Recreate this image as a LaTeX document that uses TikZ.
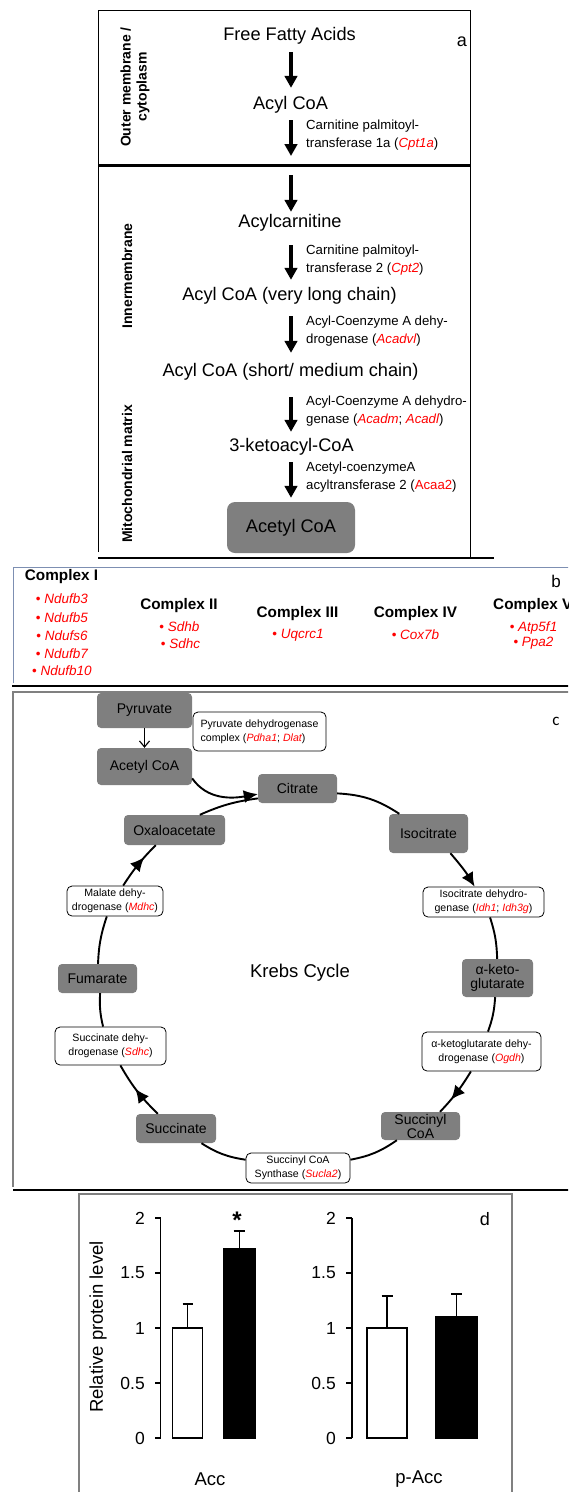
\documentclass[tikz,border=0pt]{standalone}
\usepackage{fontspec}
\setmainfont{Liberation Sans}
\newfontfamily\cfont{Carlito}
\usetikzlibrary{arrows.meta,decorations.markings,calc}
\definecolor{boxgray}{RGB}{127,127,127}
\definecolor{bluegray}{RGB}{125,143,178}
\definecolor{framegray}{RGB}{128,128,128}
\newcommand{\genename}[1]{\textcolor{red}{\itshape #1}}
\newcommand{\fsz}[2]{\fontsize{#1}{#2}\selectfont}
\tikzset{
  mainlbl/.style={font=\fsz{18.2}{20}, inner sep=0pt},
  enzlbl/.style={font=\fsz{13.2}{18}, align=left, anchor=west, inner sep=0pt},
  sidelbl/.style={rotate=90, font=\bfseries\fsz{14}{16}, align=center, inner sep=0pt},
  bigarrow/.style={line width=3.5pt, -{Triangle[length=12pt,width=12.5pt]}},
  gbox/.style={fill=boxgray, rounded corners=4pt, font=\fsz{14}{14}, align=center, inner sep=0pt},
  wbox/.style={draw=black, fill=white, rounded corners=5pt, line width=0.8pt, font=\fsz{10.6}{14}, align=center, inner sep=0pt},
  cycline/.style={line width=1.9pt},
  cycarrow/.style={line width=1.9pt, -{Latex[length=14pt,width=13pt]}},
  midarrow/.style={line width=1.9pt, postaction={decorate}, decoration={markings, mark=at position #1 with {\arrow{Latex[length=14pt,width=13pt]}}}},
  midarrow/.default=0.6,
  cplx/.style={font=\bfseries\fsz{15.3}{17}, inner sep=0pt},
  genelbl/.style={font=\fsz{13.5}{16}, text=red, inner sep=0pt},
  ticklbl/.style={font=\fsz{17.5}{20}, anchor=east, inner sep=0pt},
  barbox/.style={draw=black, line width=1.2pt},
  errbar/.style={line width=1.2pt},
}
\begin{document}
\begin{tikzpicture}[x=1pt,y=1pt]
\useasboundingbox (0,0) rectangle (568,-1492);
\clip (0,0) rectangle (568,-1492);

% ---------------- panel a ----------------
\draw[line width=0.9pt] (98,-552) -- (98,-10) -- (470,-10) -- (470,-557);
\draw[line width=2.5pt] (98,-165.7) -- (470,-165.7);
\draw[line width=2.5pt] (98,-558) -- (494,-558);

\node[font=\fsz{18}{20}, inner sep=0pt] (la) at (462,-42) {a};

\node[sidelbl] (s1) at (135,-87) {Outer membrane /\\cytoplasm};
\node[sidelbl] (s2) at (127,-276) {Innermembrane};
\node[sidelbl] (s3) at (127,-474) {Mitochondrial matrix};

\coordinate (ax) at (291,0);
\node[mainlbl] (ffa) at (289.5,-36) {Free Fatty Acids};
\node[mainlbl] (acyl1) at (290.5,-105) {Acyl CoA};
\node[mainlbl] (acylcarn) at (290,-223) {Acylcarnitine};
\node[mainlbl] (acylvlc) at (289.5,-296) {Acyl CoA (very long chain)};
\node[mainlbl] (acylsmc) at (290.5,-372) {Acyl CoA (short/ medium chain)};
\node[mainlbl] (keto) at (291.5,-447) {3-ketoacyl-CoA};
\node[fill=boxgray, rounded corners=8pt, minimum width=128pt, minimum height=51pt, font=\fsz{18.2}{20}, inner sep=0pt] (acetyl) at (291,-527.5) {Acetyl CoA};

\coordinate (m1) at (291,-156);
\coordinate (m2) at (291,-175);

\draw[bigarrow, shorten <=7.5pt, shorten >=8.5pt] (ffa.south -| ax) -- (acyl1.north -| ax);
\draw[bigarrow, shorten <=6.5pt] (acyl1.south -| ax) -- (m1);
\draw[bigarrow, shorten >=2.5pt] (m2) -- (acylcarn.north -| ax);
\draw[bigarrow, shorten <=13.5pt, shorten >=7.5pt] (acylcarn.south -| ax) -- (acylvlc.north -| ax);
\draw[bigarrow, shorten <=11.5pt, shorten >=10.5pt] (acylvlc.south -| ax) -- (acylsmc.north -| ax);
\draw[bigarrow, shorten <=16.5pt, shorten >=6.5pt] (acylsmc.south -| ax) -- (keto.north -| ax);
\draw[bigarrow, shorten <=6.5pt, shorten >=4pt] (keto.south -| ax) -- (acetyl.north -| ax);

\node[enzlbl] (e1) at (306,-135) {Carnitine palmitoyl-\\transferase 1a (\genename{Cpt1a})};
\node[enzlbl] (e2) at (306,-260) {Carnitine palmitoyl-\\transferase 2 (\genename{Cpt2})};
\node[enzlbl] (e3) at (306,-331.5) {Acyl-Coenzyme A dehy-\\drogenase (\genename{Acadvl})};
\node[enzlbl] (e4) at (306,-411) {Acyl-Coenzyme A dehydro-\\genase (\genename{Acadm}; \genename{Acadl})};
\node[enzlbl] (e5) at (306,-477.5) {Acetyl-coenzymeA\\acyltransferase 2 (\textcolor{red}{Acaa2})};

% ---------------- panel b ----------------
\draw[bluegray, line width=1pt] (13,-683) -- (13,-567) -- (575,-567);
\draw[line width=2.5pt] (12,-686) -- (575,-686);
\node[font=\fsz{17}{18}, inner sep=0pt] (lb) at (556,-581) {b};

\node[cplx] (c1) at (61.5,-577) {Complex I};
\node[genelbl] (g11) at (62,-599) {\textbullet\ \textit{Ndufb3}};
\node[genelbl] (g12) at (62,-618) {\textbullet\ \textit{Ndufb5}};
\node[genelbl] (g13) at (62,-636) {\textbullet\ \textit{Ndufs6}};
\node[genelbl] (g14) at (62,-654) {\textbullet\ \textit{Ndufb7}};
\node[genelbl] (g15) at (62,-671) {\textbullet\ \textit{Ndufb10}};

\node[cplx] (c2) at (179,-606) {Complex II};
\node[genelbl] (g21) at (179.5,-627) {\textbullet\ \textit{Sdhb}};
\node[genelbl] (g22) at (180.5,-644) {\textbullet\ \textit{Sdhc}};

\node[cplx] (c3) at (297.5,-614) {Complex III};
\node[genelbl] (g31) at (298,-635) {\textbullet\ \textit{Uqcrc1}};

\node[cplx] (c4) at (415.5,-614) {Complex IV};
\node[genelbl] (g41) at (415.5,-635) {\textbullet\ \textit{Cox7b}};

\node[cplx, anchor=west] (c5) at (493,-606) {Complex V};
\node[genelbl] (g51) at (533.5,-628) {\textbullet\ \textit{Atp5f1}};
\node[genelbl] (g52) at (533.5,-643) {\textbullet\ \textit{Ppa2}};

% ---------------- panel c ----------------
\draw[framegray, line width=1.2pt] (13,-1187) -- (13,-692) -- (575,-692);
\draw[line width=2.5pt] (13,-1190) -- (575,-1190);
\node[font=\cfont\fsz{17}{18}, inner sep=0pt] (lc) at (556,-721) {c};

\node[gbox, minimum width=95pt, minimum height=35pt] (pyr) at (144.5,-710.5) {Pyruvate};
\node[gbox, minimum width=95pt, minimum height=37pt] (acoa) at (144.5,-766.5) {Acetyl CoA};
\node[gbox, minimum width=79pt, minimum height=29pt] (cit) at (297.5,-788.5) {Citrate};
\node[gbox, minimum width=79pt, minimum height=39pt] (iso) at (428.5,-833.5) {Isocitrate};
\node[gbox, minimum width=101pt, minimum height=30pt] (oxa) at (174.5,-830) {Oxaloacetate};
\node[gbox, minimum width=79pt, minimum height=29pt] (fum) at (97.5,-978.5) {Fumarate};
\node[gbox, minimum width=71pt, minimum height=38pt] (akg) at (497.5,-978) {α-keto-\\glutarate};
\node[gbox, minimum width=79pt, minimum height=28pt] (sca) at (420.5,-1126) {Succinyl\\CoA};
\node[gbox, minimum width=80pt, minimum height=29pt] (suc) at (176,-1128.5) {Succinate};

\node[wbox, minimum width=133pt, minimum height=39pt, align=left] (pdh) at (259.5,-731.5) {Pyruvate dehydrogenase\\complex (\genename{Pdha1}; \genename{Dlat})};
\node[wbox, minimum width=96pt, minimum height=30pt] (mdh) at (115,-901) {Malate dehy-\\drogenase (\genename{Mdhc})};
\node[wbox, minimum width=121pt, minimum height=30pt] (idh) at (483.5,-902) {Isocitrate dehydro-\\genase (\genename{Idh1}; \genename{Idh3g})};
\node[wbox, minimum width=111pt, minimum height=38pt] (sdh) at (110.5,-1046) {Succinate dehy-\\drogenase (\genename{Sdhc})};
\node[wbox, minimum width=119pt, minimum height=39pt] (ogdh) at (481.5,-1051.5) {α-ketoglutarate dehy-\\drogenase (\genename{Ogdh})};
\node[wbox, minimum width=104pt, minimum height=30pt] (syn) at (298,-1168) {Succinyl CoA\\Synthase (\genename{Sucla2})};

\node[font=\fsz{18.5}{20}, inner sep=0pt] (krebs) at (300,-973) {Krebs Cycle};

\draw[line width=1.1pt, -{Straight Barb[length=6pt,width=10pt]}] (pyr) -- (acoa);
\draw[cycarrow] (acoa.-14) to[out=-55, in=190] (cit.188);
\draw[cycline] (oxa.31) to[bend left=8] (cit.194);
\draw[cycline] (cit.-7) to[bend left=15] (iso.146);
\draw[cycarrow] (iso.-42) to[bend left=5] (idh.120);
\draw[cycline] (idh.-67) to[bend left=8] (akg.91);
\draw[cycline] (akg.-97) to[bend left=8] (ogdh.72);
\draw[midarrow=0.68] (ogdh.-118) to[bend left=6] (sca.36);
\draw[cycline] (sca.211) to[bend left=12] (syn.9);
\draw[cycline] (syn.171) to[bend left=12] (suc.-30);
\draw[midarrow=0.55] (suc.141) to[bend left=8] (sdh.-63);
\draw[cycline] (sdh.111) to[bend left=8] (fum.-80);
\draw[cycline] (fum.88) to[bend left=8] (mdh.-118);
\draw[midarrow=0.68] (mdh.62) to[bend left=6] (oxa.219);

% ---------------- panel d ----------------
\draw[framegray, line width=1.2pt] (79,-1500) -- (79,-1194) -- (512,-1194) -- (512,-1500);
\node[font=\fsz{18}{20}, inner sep=0pt] (ld) at (485,-1219) {d};

% left chart
\draw[line width=1.2pt] (160.7,-1218) -- (160.7,-1438);
\foreach \v/\t [count=\i] in {0/0,0.5/0.5,1/1,1.5/1.5,2/2} {
  \draw[line width=1.2pt] (155,{-1438+110*\v}) -- (160.7,{-1438+110*\v});
  \node[ticklbl] (tl\i) at (145,{-1438+110*\v}) {\t};
}
\draw[barbox, fill=white] (172.7,-1438) rectangle (202.7,-1328);
\draw[errbar] (187.7,-1328) -- (187.7,-1304);
\draw[errbar] (182.5,-1304) -- (192.9,-1304);
\draw[barbox, fill=black] (224,-1438) rectangle (255.7,-1249);
\draw[errbar] (239.3,-1249) -- (239.3,-1231);
\draw[errbar] (233.5,-1231) -- (245,-1231);
\node[font=\bfseries\fsz{24}{24}, inner sep=0pt] (star) at (237,-1220) {*};
\node[rotate=90, font=\fsz{18.5}{20}, inner sep=0pt] (ylab) at (98,-1327) {Relative protein level};
\node[font=\fsz{18.5}{20}, inner sep=0pt] (xl1) at (210,-1479) {Acc};

% right chart
\draw[line width=1.2pt] (352,-1218) -- (352,-1438);
\foreach \v/\t [count=\i] in {0/0,0.5/0.5,1/1,1.5/1.5,2/2} {
  \draw[line width=1.2pt] (346,{-1438+110*\v}) -- (352,{-1438+110*\v});
  \node[ticklbl] (tr\i) at (336,{-1438+110*\v}) {\t};
}
\draw[barbox, fill=white] (367,-1438) rectangle (407,-1328);
\draw[errbar] (387,-1328) -- (387,-1296);
\draw[errbar] (381.5,-1296) -- (392.5,-1296);
\draw[barbox, fill=black] (436,-1438) rectangle (477,-1317);
\draw[errbar] (456.5,-1317) -- (456.5,-1294);
\draw[errbar] (451,-1294) -- (462,-1294);
\node[font=\fsz{18.5}{20}, inner sep=0pt] (xl2) at (419,-1479) {p-Acc};
\end{tikzpicture}
\end{document}
